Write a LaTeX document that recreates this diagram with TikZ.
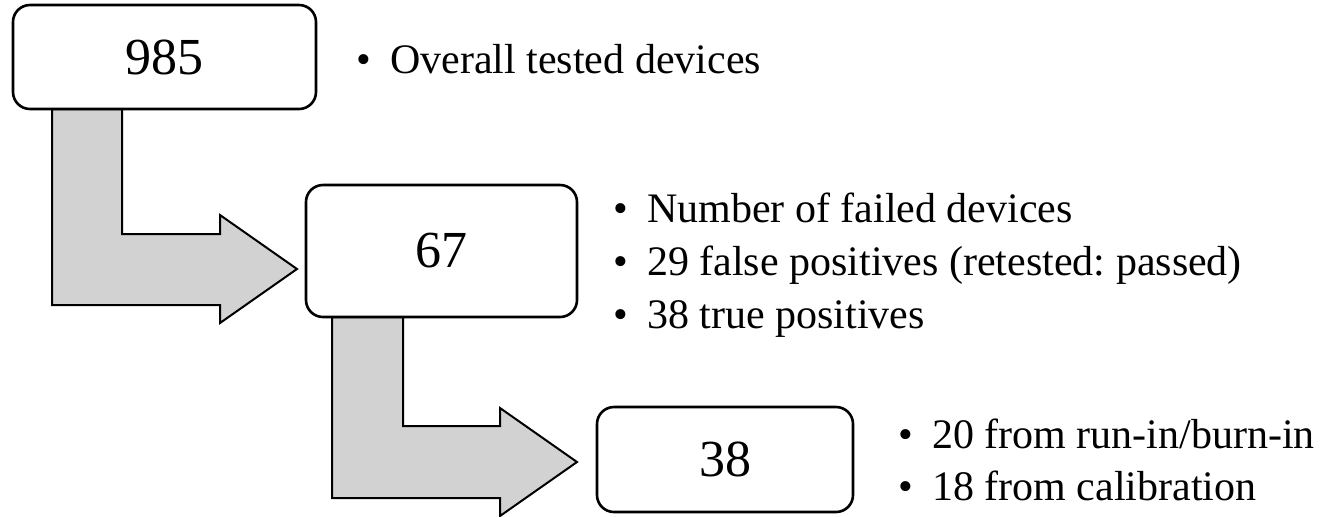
\documentclass[tikz,border=0pt]{standalone}
\usepackage{fontspec}
\setmainfont{Liberation Serif}
\usetikzlibrary{positioning}
\frenchspacing

\tikzset{
	numbox/.style={draw=black, line width=1.3pt, rounded corners=8.5pt, fill=white, inner sep=0pt, font=\fontsize{26}{30}\selectfont},
	bul/.style={anchor=base west, inner sep=0pt, font=\fontsize{21}{26}\selectfont},
	blockarrow/.style={draw=black, line width=1pt, fill=gray!35}
}

\begin{document}
\begin{tikzpicture}[x=0.5pt, y=-0.5pt]
	\useasboundingbox (0,0) rectangle (1322,516);
	
	% block arrows
	\draw[blockarrow] (52,109) -- (122,109) -- (122,234) -- (220,234) -- (220,215) -- (297,269) -- (220,323) -- (220,305) -- (52,305) -- cycle;
	\draw[blockarrow] (332,317) -- (403,317) -- (403,426) -- (500,426) -- (500,408) -- (577,462) -- (500,516) -- (500,498) -- (332,498) -- cycle;
	
	% boxes
	\node[numbox, minimum width=151.5pt, minimum height=52pt] (total) at (164.5,57) {985};
	\node[numbox, minimum width=135.5pt, minimum height=66pt] (failed) at (441.5,251) {67};
	\node[numbox, minimum width=128pt, minimum height=52.5pt] (truepos) at (725,459.5) {38};
	
	% notes
	\node[bul] (noteA) at (356,73) {\textbullet\hspace{9.5pt}Overall tested devices};
	
	\node[bul] (noteBa) at (613,222) {\textbullet\hspace{9.5pt}Number of failed devices};
	\node[bul] (noteBb) at (613,275) {\textbullet\hspace{9.5pt}29 false positives (retested: passed)};
	\node[bul] (noteBc) at (613,328) {\textbullet\hspace{9.5pt}38 true positives};
	
	\node[bul] (noteCa) at (898,448) {\textbullet\hspace{9.5pt}20 from run-in/burn-in};
	\node[bul] (noteCb) at (898,500) {\textbullet\hspace{9.5pt}18 from calibration};
\end{tikzpicture}
\end{document}
